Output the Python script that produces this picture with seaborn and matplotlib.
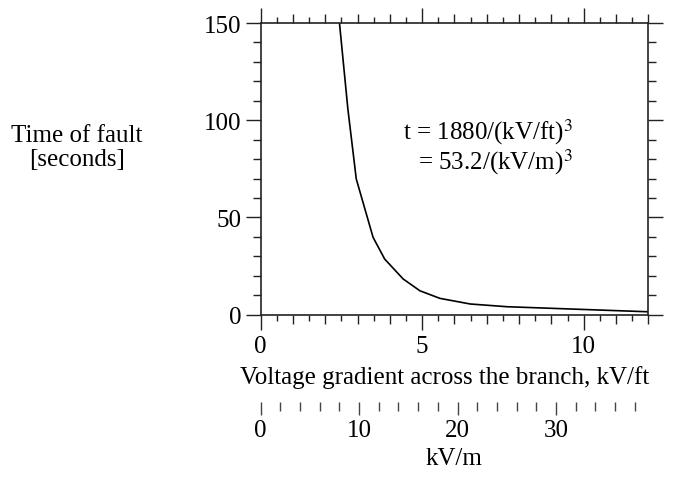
import numpy as np
import pandas as pd
import matplotlib
matplotlib.use("Agg")
import matplotlib.pyplot as plt
import seaborn as sns

# values
gradient_kv_ft = [2.44, 2.70, 2.96, 3.48, 3.84, 4.41, 4.93, 5.55, 6.49, 7.63, 12.0]
fault_time_s = [150, 105.8, 69.8, 39.8, 28.6, 18.4, 12.3, 8.4, 5.5, 4.1, 1.5]

x_major = [0, 5, 10]
y_major = [0, 50, 100, 150]
kvm_major = [0, 10, 20, 30]
KV_FT_TO_KV_M = 3.2808
FS = 18

sns.set_style("ticks")
plt.rcParams['font.family'] = ['Liberation Serif', 'DejaVu Serif']
plt.rcParams['mathtext.fontset'] = 'stix'
plt.rcParams['text.color'] = 'black'
plt.rcParams['axes.labelcolor'] = 'black'

df = pd.DataFrame({"x": gradient_kv_ft, "t": fault_time_s})

fig = plt.figure(figsize=(6.77, 4.89), dpi=100)
ax = fig.add_axes([0.385, 0.3544, 0.5726, 0.5965])

sns.lineplot(data=df, x="x", y="t", ax=ax, color="black", linewidth=1.2,
             estimator=None, sort=False)

ax.set_xlim(0, 12)
ax.set_ylim(0, 150)
for s in ax.spines.values():
    s.set_visible(True)
    s.set_linewidth(1.2)
    s.set_color("#222222")

ax.set_xticks(x_major)
ax.set_xticks(np.arange(1, 13, 1), minor=True)
ax.set_yticks(y_major)
ax.set_yticks(np.arange(10, 150, 10), minor=True)
ax.tick_params(axis='both', which='both', direction='out', color="#222222",
               width=1.0, labelsize=FS, labelcolor='black')
ax.tick_params(axis='x', which='both', top=True, bottom=True)
ax.tick_params(axis='y', which='both', left=True, right=True)
ax.tick_params(axis='x', which='major', length=10.8, pad=4)
ax.tick_params(axis='x', which='minor', length=6.5)
ax.tick_params(axis='y', which='major', length=10.8, pad=3)
ax.tick_params(axis='y', which='minor', length=5.8)

# half-unit short ticks on top and bottom
for loc in ('bottom', 'top'):
    half = ax.secondary_xaxis(loc)
    half.set_xticks(np.arange(0.5, 12, 1))
    half.tick_params(length=4.3, width=1.0, color="#222222", labelbottom=False,
                     labeltop=False, direction='out')
    for s in half.spines.values():
        s.set_visible(False)

ax.set_xlabel("Voltage gradient across the branch, kV/ft", fontsize=FS)
ax.xaxis.set_label_coords(0.474, -0.212)
ax.xaxis.label.set_va('center')
ax.set_ylabel("Time of fault\n[seconds]", fontsize=FS, rotation=0,
              ha='center', va='center', multialignment='center', linespacing=1.1)
ax.yaxis.set_label_coords(-0.474, 0.575)

# kV/m scale below
sec = ax.secondary_xaxis(-0.298, functions=(lambda v: v * KV_FT_TO_KV_M,
                                            lambda v: v / KV_FT_TO_KV_M))
for s in sec.spines.values():
    s.set_visible(False)
sec.set_xticks(kvm_major)
sec.set_xticks(np.arange(0, 39, 2), minor=True)
sec.tick_params(which='major', length=9.5, width=1.0, color="#444444",
                direction='out', labelsize=FS, pad=3, labelcolor='black')
sec.tick_params(which='minor', length=6.5, width=1.0, color="#444444",
                direction='out')
sec.set_xlabel("kV/m", fontsize=FS, color='black')
sec.xaxis.set_label_coords(0.5, -0.49, transform=ax.transAxes)
sec.xaxis.label.set_va('center')

ax.text(9.67, 86.7, "t = 1880/(kV/ft)$^3$\n= 53.2/(kV/m)$^3$", fontsize=FS,
        ha='right', va='center', multialignment='right', linespacing=1.0,
        color='black')

fig.savefig("out.png", dpi=100)
